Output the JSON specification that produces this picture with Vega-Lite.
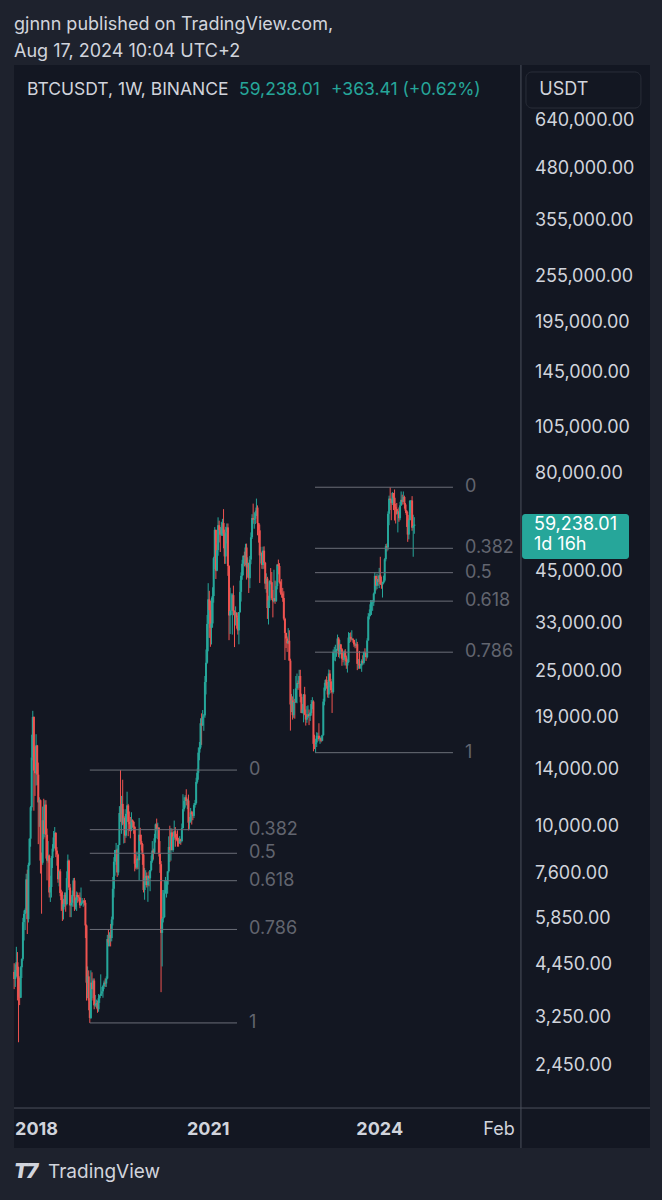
{
  "$schema": "https://vega.github.io/schema/vega-lite/v6.json",
  "width": 636,
  "height": 1083,
  "autosize": {"type": "none"},
  "padding": {"left": 14, "top": 65, "right": 12, "bottom": 52},
  "background": "#1e222d",
  "config": {
    "view": {"fill": "#131722", "stroke": null},
    "text": {"font": "Inter"}
  },
  "title": {
    "text": "gjnnn published on TradingView.com,",
    "subtitle": "Aug 17, 2024 10:04 UTC+2",
    "anchor": "start", "frame": "group",
    "font": "Inter", "fontSize": 18, "fontWeight": "normal", "color": "#d1d4dc",
    "subtitleFont": "Inter", "subtitleFontSize": 18, "subtitleColor": "#d1d4dc",
    "subtitlePadding": 9, "offset": 4
  },
  "datasets": {
    "candles": [
      {"d":"2017-08-14","o":4261,"h":4485,"l":3850,"c":4086},
      {"d":"2017-08-21","o":4086,"h":4453,"l":3900,"c":4310},
      {"d":"2017-08-28","o":4310,"h":4939,"l":4124,"c":4509},
      {"d":"2017-09-04","o":4509,"h":4788,"l":3603,"c":4160},
      {"d":"2017-09-11","o":4160,"h":4394,"l":2817,"c":3679},
      {"d":"2017-09-18","o":3679,"h":4123,"l":3505,"c":3660},
      {"d":"2017-09-25","o":3660,"h":4406,"l":3653,"c":4378},
      {"d":"2017-10-02","o":4378,"h":4614,"l":4110,"c":4600},
      {"d":"2017-10-09","o":4600,"h":5856,"l":4550,"c":5711},
      {"d":"2017-10-16","o":5711,"h":6118,"l":5125,"c":5993},
      {"d":"2017-10-23","o":5993,"h":6189,"l":5450,"c":6134},
      {"d":"2017-10-30","o":6134,"h":7590,"l":6030,"c":7345},
      {"d":"2017-11-06","o":7345,"h":7776,"l":5325,"c":5811},
      {"d":"2017-11-13","o":5811,"h":8100,"l":5699,"c":8000},
      {"d":"2017-11-20","o":8000,"h":9350,"l":7960,"c":9330},
      {"d":"2017-11-27","o":9330,"h":11300,"l":8900,"c":11223},
      {"d":"2017-12-04","o":11223,"h":17204,"l":11000,"c":15040},
      {"d":"2017-12-11","o":15040,"h":19798,"l":14800,"c":19100},
      {"d":"2017-12-18","o":19100,"h":19150,"l":11000,"c":13925},
      {"d":"2017-12-25","o":13925,"h":16000,"l":12000,"c":13716},
      {"d":"2018-01-01","o":13716,"h":17252,"l":12750,"c":16150},
      {"d":"2018-01-08","o":16150,"h":16200,"l":12800,"c":13600},
      {"d":"2018-01-15","o":13600,"h":14600,"l":9035,"c":11550},
      {"d":"2018-01-22","o":11550,"h":11900,"l":10000,"c":11700},
      {"d":"2018-01-29","o":11700,"h":11750,"l":7600,"c":8200},
      {"d":"2018-02-05","o":8200,"h":8600,"l":6000,"c":8100},
      {"d":"2018-02-12","o":8100,"h":11270,"l":8000,"c":10400},
      {"d":"2018-02-19","o":10400,"h":11800,"l":9300,"c":9600},
      {"d":"2018-02-26","o":9600,"h":11700,"l":9400,"c":11400},
      {"d":"2018-03-05","o":11400,"h":11700,"l":8300,"c":9550},
      {"d":"2018-03-12","o":9550,"h":9900,"l":7300,"c":8200},
      {"d":"2018-03-19","o":8200,"h":9200,"l":8100,"c":8450},
      {"d":"2018-03-26","o":8450,"h":8500,"l":6600,"c":6800},
      {"d":"2018-04-02","o":6800,"h":7500,"l":6430,"c":7020},
      {"d":"2018-04-09","o":7020,"h":8420,"l":6600,"c":8330},
      {"d":"2018-04-16","o":8330,"h":9035,"l":7850,"c":8800},
      {"d":"2018-04-23","o":8800,"h":9760,"l":8650,"c":9400},
      {"d":"2018-04-30","o":9400,"h":9990,"l":8820,"c":9650},
      {"d":"2018-05-07","o":9650,"h":9700,"l":8370,"c":8700},
      {"d":"2018-05-14","o":8700,"h":8880,"l":7960,"c":8500},
      {"d":"2018-05-21","o":8500,"h":8550,"l":7200,"c":7350},
      {"d":"2018-05-28","o":7350,"h":7750,"l":7050,"c":7700},
      {"d":"2018-06-04","o":7700,"h":7800,"l":6650,"c":6780},
      {"d":"2018-06-11","o":6780,"h":6910,"l":6100,"c":6500},
      {"d":"2018-06-18","o":6500,"h":6840,"l":5750,"c":6150},
      {"d":"2018-06-25","o":6150,"h":6550,"l":5800,"c":6350},
      {"d":"2018-07-02","o":6350,"h":6800,"l":6250,"c":6700},
      {"d":"2018-07-09","o":6700,"h":6800,"l":6070,"c":6350},
      {"d":"2018-07-16","o":6350,"h":7700,"l":6300,"c":7400},
      {"d":"2018-07-23","o":7400,"h":8500,"l":7350,"c":8200},
      {"d":"2018-07-30","o":8200,"h":8250,"l":6900,"c":7000},
      {"d":"2018-08-06","o":7000,"h":7150,"l":5880,"c":6300},
      {"d":"2018-08-13","o":6300,"h":6630,"l":5880,"c":6400},
      {"d":"2018-08-20","o":6400,"h":6880,"l":6250,"c":6700},
      {"d":"2018-08-27","o":6700,"h":7400,"l":6650,"c":7300},
      {"d":"2018-09-03","o":7300,"h":7410,"l":6100,"c":6250},
      {"d":"2018-09-10","o":6250,"h":6600,"l":6150,"c":6500},
      {"d":"2018-09-17","o":6500,"h":6840,"l":6100,"c":6700},
      {"d":"2018-09-24","o":6700,"h":6800,"l":6400,"c":6625},
      {"d":"2018-10-01","o":6625,"h":6700,"l":6450,"c":6600},
      {"d":"2018-10-08","o":6600,"h":6800,"l":6200,"c":6300},
      {"d":"2018-10-15","o":6300,"h":7000,"l":6300,"c":6400},
      {"d":"2018-10-22","o":6400,"h":6580,"l":6350,"c":6450},
      {"d":"2018-10-29","o":6450,"h":6500,"l":6250,"c":6480},
      {"d":"2018-11-05","o":6480,"h":6580,"l":6300,"c":6400},
      {"d":"2018-11-12","o":6400,"h":6500,"l":5200,"c":5600},
      {"d":"2018-11-19","o":5600,"h":5630,"l":3600,"c":4000},
      {"d":"2018-11-26","o":4000,"h":4400,"l":3650,"c":4150},
      {"d":"2018-12-03","o":4150,"h":4300,"l":3400,"c":3600},
      {"d":"2018-12-10","o":3600,"h":3650,"l":3156,"c":3250},
      {"d":"2018-12-17","o":3250,"h":4300,"l":3230,"c":4000},
      {"d":"2018-12-24","o":4000,"h":4250,"l":3600,"c":3850},
      {"d":"2018-12-31","o":3850,"h":4100,"l":3650,"c":4050},
      {"d":"2019-01-07","o":4050,"h":4100,"l":3420,"c":3500},
      {"d":"2019-01-14","o":3500,"h":3720,"l":3470,"c":3530},
      {"d":"2019-01-21","o":3530,"h":3620,"l":3440,"c":3550},
      {"d":"2019-01-28","o":3550,"h":3600,"l":3350,"c":3420},
      {"d":"2019-02-04","o":3420,"h":3740,"l":3370,"c":3650},
      {"d":"2019-02-11","o":3650,"h":3720,"l":3550,"c":3700},
      {"d":"2019-02-18","o":3700,"h":4200,"l":3700,"c":3750},
      {"d":"2019-02-25","o":3750,"h":3900,"l":3700,"c":3800},
      {"d":"2019-03-04","o":3800,"h":3950,"l":3660,"c":3920},
      {"d":"2019-03-11","o":3920,"h":4050,"l":3850,"c":4000},
      {"d":"2019-03-18","o":4000,"h":4100,"l":3900,"c":3980},
      {"d":"2019-03-25","o":3980,"h":4150,"l":3900,"c":4100},
      {"d":"2019-04-01","o":4100,"h":5300,"l":4080,"c":5170},
      {"d":"2019-04-08","o":5170,"h":5470,"l":4950,"c":5070},
      {"d":"2019-04-15","o":5070,"h":5380,"l":4950,"c":5300},
      {"d":"2019-04-22","o":5300,"h":5650,"l":4950,"c":5200},
      {"d":"2019-04-29","o":5200,"h":5900,"l":5100,"c":5800},
      {"d":"2019-05-06","o":5800,"h":7450,"l":5600,"c":6950},
      {"d":"2019-05-13","o":6950,"h":8370,"l":6600,"c":8150},
      {"d":"2019-05-20","o":8150,"h":8250,"l":7500,"c":8730},
      {"d":"2019-05-27","o":8730,"h":9100,"l":8000,"c":8740},
      {"d":"2019-06-03","o":8740,"h":8800,"l":7450,"c":7650},
      {"d":"2019-06-10","o":7650,"h":9000,"l":7520,"c":8990},
      {"d":"2019-06-17","o":8990,"h":11300,"l":8980,"c":10850},
      {"d":"2019-06-24","o":10850,"h":13970,"l":10300,"c":10800},
      {"d":"2019-07-01","o":10800,"h":12000,"l":9600,"c":11450},
      {"d":"2019-07-08","o":11450,"h":13200,"l":10100,"c":10200},
      {"d":"2019-07-15","o":10200,"h":11100,"l":9070,"c":10550},
      {"d":"2019-07-22","o":10550,"h":10650,"l":9100,"c":9500},
      {"d":"2019-07-29","o":9500,"h":11100,"l":9380,"c":10800},
      {"d":"2019-08-05","o":10800,"h":12300,"l":10800,"c":11350},
      {"d":"2019-08-12","o":11350,"h":11450,"l":9470,"c":10300},
      {"d":"2019-08-19","o":10300,"h":10950,"l":9750,"c":10150},
      {"d":"2019-08-26","o":10150,"h":10600,"l":9350,"c":9800},
      {"d":"2019-09-02","o":9800,"h":10900,"l":9750,"c":10400},
      {"d":"2019-09-09","o":10400,"h":10450,"l":9950,"c":10300},
      {"d":"2019-09-16","o":10300,"h":10350,"l":9600,"c":10000},
      {"d":"2019-09-23","o":10000,"h":10050,"l":7700,"c":8050},
      {"d":"2019-09-30","o":8050,"h":8500,"l":7800,"c":7870},
      {"d":"2019-10-07","o":7870,"h":8650,"l":7780,"c":8300},
      {"d":"2019-10-14","o":8300,"h":8420,"l":7800,"c":8220},
      {"d":"2019-10-21","o":8220,"h":10540,"l":7300,"c":9550},
      {"d":"2019-10-28","o":9550,"h":9950,"l":9000,"c":9200},
      {"d":"2019-11-04","o":9200,"h":9550,"l":8700,"c":9040},
      {"d":"2019-11-11","o":9040,"h":9100,"l":8000,"c":8500},
      {"d":"2019-11-18","o":8500,"h":8550,"l":6800,"c":6900},
      {"d":"2019-11-25","o":6900,"h":7850,"l":6515,"c":7400},
      {"d":"2019-12-02","o":7400,"h":7750,"l":7100,"c":7500},
      {"d":"2019-12-09","o":7500,"h":7650,"l":7000,"c":7100},
      {"d":"2019-12-16","o":7100,"h":7500,"l":6435,"c":7500},
      {"d":"2019-12-23","o":7500,"h":7700,"l":7050,"c":7390},
      {"d":"2019-12-30","o":7390,"h":7500,"l":6850,"c":7760},
      {"d":"2020-01-06","o":7760,"h":8450,"l":7700,"c":8180},
      {"d":"2020-01-13","o":8180,"h":9200,"l":8100,"c":8700},
      {"d":"2020-01-20","o":8700,"h":8800,"l":8250,"c":8600},
      {"d":"2020-01-27","o":8600,"h":9600,"l":8530,"c":9350},
      {"d":"2020-02-03","o":9350,"h":10200,"l":9120,"c":10150},
      {"d":"2020-02-10","o":10150,"h":10500,"l":9800,"c":9900},
      {"d":"2020-02-17","o":9900,"h":10250,"l":9300,"c":9960},
      {"d":"2020-02-24","o":9960,"h":9970,"l":8400,"c":8550},
      {"d":"2020-03-02","o":8550,"h":9200,"l":7630,"c":8030},
      {"d":"2020-03-09","o":8030,"h":8180,"l":3782,"c":5360},
      {"d":"2020-03-16","o":5360,"h":6900,"l":4400,"c":5830},
      {"d":"2020-03-23","o":5830,"h":6900,"l":5700,"c":5880},
      {"d":"2020-03-30","o":5880,"h":7300,"l":5860,"c":6770},
      {"d":"2020-04-06","o":6770,"h":7450,"l":6750,"c":6900},
      {"d":"2020-04-13","o":6900,"h":7300,"l":6600,"c":7120},
      {"d":"2020-04-20","o":7120,"h":7700,"l":6750,"c":7700},
      {"d":"2020-04-27","o":7700,"h":9460,"l":7640,"c":8890},
      {"d":"2020-05-04","o":8890,"h":10070,"l":8130,"c":8720},
      {"d":"2020-05-11","o":8720,"h":9930,"l":8200,"c":9680},
      {"d":"2020-05-18","o":9680,"h":9900,"l":8800,"c":8720},
      {"d":"2020-05-25","o":8720,"h":9700,"l":8630,"c":9450},
      {"d":"2020-06-01","o":9450,"h":10380,"l":9270,"c":9750},
      {"d":"2020-06-08","o":9750,"h":9990,"l":8900,"c":9380},
      {"d":"2020-06-15","o":9380,"h":9600,"l":9230,"c":9300},
      {"d":"2020-06-22","o":9300,"h":9800,"l":8900,"c":9180},
      {"d":"2020-06-29","o":9180,"h":9380,"l":8900,"c":9080},
      {"d":"2020-07-06","o":9080,"h":9470,"l":9050,"c":9300},
      {"d":"2020-07-13","o":9300,"h":9330,"l":9000,"c":9200},
      {"d":"2020-07-20","o":9200,"h":10200,"l":9130,"c":9930},
      {"d":"2020-07-27","o":9930,"h":12120,"l":9900,"c":11100},
      {"d":"2020-08-03","o":11100,"h":11900,"l":10950,"c":11650},
      {"d":"2020-08-10","o":11650,"h":12050,"l":11200,"c":11900},
      {"d":"2020-08-17","o":11900,"h":12480,"l":11350,"c":11650},
      {"d":"2020-08-24","o":11650,"h":11800,"l":11100,"c":11680},
      {"d":"2020-08-31","o":11680,"h":12090,"l":9800,"c":10250},
      {"d":"2020-09-07","o":10250,"h":10600,"l":9880,"c":10330},
      {"d":"2020-09-14","o":10330,"h":11180,"l":10260,"c":10900},
      {"d":"2020-09-21","o":10900,"h":10990,"l":10140,"c":10770},
      {"d":"2020-09-28","o":10770,"h":10950,"l":10400,"c":10670},
      {"d":"2020-10-05","o":10670,"h":11500,"l":10530,"c":11370},
      {"d":"2020-10-12","o":11370,"h":11720,"l":11200,"c":11500},
      {"d":"2020-10-19","o":11500,"h":13350,"l":11400,"c":13030},
      {"d":"2020-10-26","o":13030,"h":14100,"l":12900,"c":13750},
      {"d":"2020-11-02","o":13750,"h":15960,"l":13200,"c":15480},
      {"d":"2020-11-09","o":15480,"h":16480,"l":14800,"c":15950},
      {"d":"2020-11-16","o":15950,"h":18950,"l":15800,"c":18400},
      {"d":"2020-11-23","o":18400,"h":19500,"l":16200,"c":18180},
      {"d":"2020-11-30","o":18180,"h":19890,"l":18100,"c":19150},
      {"d":"2020-12-07","o":19150,"h":19420,"l":17600,"c":19270},
      {"d":"2020-12-14","o":19270,"h":24300,"l":19000,"c":23450},
      {"d":"2020-12-21","o":23450,"h":28400,"l":21800,"c":26270},
      {"d":"2020-12-28","o":26270,"h":34800,"l":26100,"c":33000},
      {"d":"2021-01-04","o":33000,"h":41950,"l":28100,"c":38150},
      {"d":"2021-01-11","o":38150,"h":40100,"l":30400,"c":35800},
      {"d":"2021-01-18","o":35800,"h":37850,"l":28850,"c":32250},
      {"d":"2021-01-25","o":32250,"h":38550,"l":29250,"c":33100},
      {"d":"2021-02-01","o":33100,"h":40950,"l":32300,"c":38900},
      {"d":"2021-02-08","o":38900,"h":49000,"l":37400,"c":48600},
      {"d":"2021-02-15","o":48600,"h":58350,"l":45600,"c":57400},
      {"d":"2021-02-22","o":57400,"h":57500,"l":43000,"c":45150},
      {"d":"2021-03-01","o":45150,"h":52650,"l":45000,"c":50950},
      {"d":"2021-03-08","o":50950,"h":61800,"l":49300,"c":59000},
      {"d":"2021-03-15","o":59000,"h":60600,"l":53300,"c":57350},
      {"d":"2021-03-22","o":57350,"h":58400,"l":50400,"c":55800},
      {"d":"2021-03-29","o":55800,"h":60200,"l":55400,"c":58200},
      {"d":"2021-04-05","o":58200,"h":61250,"l":55400,"c":59800},
      {"d":"2021-04-12","o":59800,"h":64850,"l":51500,"c":56200},
      {"d":"2021-04-19","o":56200,"h":57500,"l":47000,"c":49100},
      {"d":"2021-04-26","o":49100,"h":58450,"l":47000,"c":56600},
      {"d":"2021-05-03","o":56600,"h":59600,"l":53000,"c":58250},
      {"d":"2021-05-10","o":58250,"h":59600,"l":43800,"c":46400},
      {"d":"2021-05-17","o":46400,"h":46650,"l":30000,"c":34700},
      {"d":"2021-05-24","o":34700,"h":40850,"l":31100,"c":35650},
      {"d":"2021-05-31","o":35650,"h":39500,"l":34800,"c":35800},
      {"d":"2021-06-07","o":35800,"h":39500,"l":31000,"c":39100},
      {"d":"2021-06-14","o":39100,"h":41350,"l":34800,"c":35600},
      {"d":"2021-06-21","o":35600,"h":35750,"l":28800,"c":34700},
      {"d":"2021-06-28","o":34700,"h":36600,"l":32700,"c":35300},
      {"d":"2021-07-05","o":35300,"h":35300,"l":32100,"c":34250},
      {"d":"2021-07-12","o":34250,"h":34650,"l":31000,"c":31780},
      {"d":"2021-07-19","o":31780,"h":35400,"l":29280,"c":35400},
      {"d":"2021-07-26","o":35400,"h":42600,"l":35200,"c":39850},
      {"d":"2021-08-02","o":39850,"h":44700,"l":37650,"c":43800},
      {"d":"2021-08-09","o":43800,"h":48150,"l":42800,"c":47000},
      {"d":"2021-08-16","o":47000,"h":49380,"l":43950,"c":49300},
      {"d":"2021-08-23","o":49300,"h":50500,"l":46300,"c":48900},
      {"d":"2021-08-30","o":48900,"h":52900,"l":46550,"c":51750},
      {"d":"2021-09-06","o":51750,"h":52950,"l":42850,"c":46050},
      {"d":"2021-09-13","o":46050,"h":48850,"l":43350,"c":47250},
      {"d":"2021-09-20","o":47250,"h":47350,"l":39600,"c":43200},
      {"d":"2021-09-27","o":43200,"h":49250,"l":40750,"c":48200},
      {"d":"2021-10-04","o":48200,"h":56550,"l":46900,"c":54950},
      {"d":"2021-10-11","o":54950,"h":62950,"l":54400,"c":61550},
      {"d":"2021-10-18","o":61550,"h":67000,"l":59500,"c":60850},
      {"d":"2021-10-25","o":60850,"h":63700,"l":57800,"c":61300},
      {"d":"2021-11-01","o":61300,"h":64270,"l":59400,"c":63300},
      {"d":"2021-11-08","o":63300,"h":69000,"l":62300,"c":65450},
      {"d":"2021-11-15","o":65450,"h":66300,"l":55600,"c":59700},
      {"d":"2021-11-22","o":59700,"h":59800,"l":53250,"c":57250},
      {"d":"2021-11-29","o":57250,"h":59200,"l":42000,"c":49400},
      {"d":"2021-12-06","o":49400,"h":51950,"l":47100,"c":50100},
      {"d":"2021-12-13","o":50100,"h":50500,"l":45650,"c":46700},
      {"d":"2021-12-20","o":46700,"h":52000,"l":45550,"c":50800},
      {"d":"2021-12-27","o":50800,"h":52100,"l":45700,"c":47300},
      {"d":"2022-01-03","o":47300,"h":47550,"l":40500,"c":41850},
      {"d":"2022-01-10","o":41850,"h":44450,"l":39650,"c":43100},
      {"d":"2022-01-17","o":43100,"h":43550,"l":34000,"c":36250},
      {"d":"2022-01-24","o":36250,"h":38950,"l":32900,"c":37900},
      {"d":"2022-01-31","o":37900,"h":42650,"l":36250,"c":42400},
      {"d":"2022-02-07","o":42400,"h":45850,"l":41650,"c":42200},
      {"d":"2022-02-14","o":42200,"h":44800,"l":38000,"c":38350},
      {"d":"2022-02-21","o":38350,"h":40300,"l":34300,"c":37700},
      {"d":"2022-02-28","o":37700,"h":45400,"l":37450,"c":38400},
      {"d":"2022-03-07","o":38400,"h":42600,"l":37150,"c":37800},
      {"d":"2022-03-14","o":37800,"h":42350,"l":37550,"c":41250},
      {"d":"2022-03-21","o":41250,"h":46950,"l":40450,"c":46800},
      {"d":"2022-03-28","o":46800,"h":48200,"l":44200,"c":46400},
      {"d":"2022-04-04","o":46400,"h":47200,"l":41850,"c":42150},
      {"d":"2022-04-11","o":42150,"h":42400,"l":39200,"c":39700},
      {"d":"2022-04-18","o":39700,"h":42950,"l":38550,"c":39450},
      {"d":"2022-04-25","o":39450,"h":40800,"l":37600,"c":38450},
      {"d":"2022-05-02","o":38450,"h":40000,"l":33700,"c":34050},
      {"d":"2022-05-09","o":34050,"h":34250,"l":26700,"c":31300},
      {"d":"2022-05-16","o":31300,"h":31350,"l":28650,"c":30300},
      {"d":"2022-05-23","o":30300,"h":30650,"l":28000,"c":29450},
      {"d":"2022-05-30","o":29450,"h":32200,"l":29300,"c":29900},
      {"d":"2022-06-06","o":29900,"h":31800,"l":26550,"c":26600},
      {"d":"2022-06-13","o":26600,"h":26900,"l":17620,"c":20550},
      {"d":"2022-06-20","o":20550,"h":21850,"l":19650,"c":21050},
      {"d":"2022-06-27","o":21050,"h":21550,"l":18800,"c":19300},
      {"d":"2022-07-04","o":19300,"h":22500,"l":19000,"c":20850},
      {"d":"2022-07-11","o":20850,"h":21250,"l":18900,"c":20800},
      {"d":"2022-07-18","o":20800,"h":24300,"l":20750,"c":22600},
      {"d":"2022-07-25","o":22600,"h":24650,"l":20700,"c":23300},
      {"d":"2022-08-01","o":23300,"h":23650,"l":22400,"c":23200},
      {"d":"2022-08-08","o":23200,"h":25200,"l":22650,"c":24300},
      {"d":"2022-08-15","o":24300,"h":25200,"l":20800,"c":21500},
      {"d":"2022-08-22","o":21500,"h":21900,"l":19520,"c":19550},
      {"d":"2022-08-29","o":19550,"h":20600,"l":19500,"c":19950},
      {"d":"2022-09-05","o":19950,"h":21850,"l":18500,"c":21800},
      {"d":"2022-09-12","o":21800,"h":22800,"l":19300,"c":19400},
      {"d":"2022-09-19","o":19400,"h":19950,"l":18150,"c":18800},
      {"d":"2022-09-26","o":18800,"h":20350,"l":18450,"c":19050},
      {"d":"2022-10-03","o":19050,"h":20450,"l":19000,"c":19400},
      {"d":"2022-10-10","o":19400,"h":19950,"l":18200,"c":19200},
      {"d":"2022-10-17","o":19200,"h":19700,"l":18650,"c":19550},
      {"d":"2022-10-24","o":19550,"h":21100,"l":19250,"c":20600},
      {"d":"2022-10-31","o":20600,"h":21450,"l":20000,"c":20900},
      {"d":"2022-11-07","o":20900,"h":21050,"l":15600,"c":16300},
      {"d":"2022-11-14","o":16300,"h":17200,"l":15800,"c":16280},
      {"d":"2022-11-21","o":16280,"h":16800,"l":15476,"c":16430},
      {"d":"2022-11-28","o":16430,"h":17450,"l":16000,"c":17100},
      {"d":"2022-12-05","o":17100,"h":17400,"l":16750,"c":17100},
      {"d":"2022-12-12","o":17100,"h":18400,"l":16550,"c":16750},
      {"d":"2022-12-19","o":16750,"h":17050,"l":16300,"c":16850},
      {"d":"2022-12-26","o":16850,"h":16950,"l":16450,"c":16600},
      {"d":"2023-01-02","o":16600,"h":17200,"l":16550,"c":17150},
      {"d":"2023-01-09","o":17150,"h":21250,"l":17100,"c":20900},
      {"d":"2023-01-16","o":20900,"h":23350,"l":20450,"c":22700},
      {"d":"2023-01-23","o":22700,"h":23800,"l":22300,"c":23750},
      {"d":"2023-01-30","o":23750,"h":24250,"l":22550,"c":22950},
      {"d":"2023-02-06","o":22950,"h":23450,"l":21400,"c":21800},
      {"d":"2023-02-13","o":21800,"h":25250,"l":21350,"c":24650},
      {"d":"2023-02-20","o":24650,"h":25150,"l":22750,"c":23550},
      {"d":"2023-02-27","o":23550,"h":23900,"l":21950,"c":22350},
      {"d":"2023-03-06","o":22350,"h":22600,"l":19550,"c":22100},
      {"d":"2023-03-13","o":22100,"h":28400,"l":21900,"c":28000},
      {"d":"2023-03-20","o":28000,"h":28850,"l":26600,"c":28000},
      {"d":"2023-03-27","o":28000,"h":29200,"l":26500,"c":28200},
      {"d":"2023-04-03","o":28200,"h":28500,"l":27200,"c":28300},
      {"d":"2023-04-10","o":28300,"h":31000,"l":28200,"c":30300},
      {"d":"2023-04-17","o":30300,"h":30550,"l":27150,"c":27600},
      {"d":"2023-04-24","o":27600,"h":30050,"l":26950,"c":29250},
      {"d":"2023-05-01","o":29250,"h":29350,"l":27650,"c":28450},
      {"d":"2023-05-08","o":28450,"h":28650,"l":25800,"c":26900},
      {"d":"2023-05-15","o":26900,"h":27650,"l":26350,"c":26750},
      {"d":"2023-05-22","o":26750,"h":28250,"l":25850,"c":28050},
      {"d":"2023-05-29","o":28050,"h":28450,"l":26500,"c":27100},
      {"d":"2023-06-05","o":27100,"h":27400,"l":25350,"c":25850},
      {"d":"2023-06-12","o":25850,"h":26800,"l":24800,"c":26350},
      {"d":"2023-06-19","o":26350,"h":31450,"l":26250,"c":30450},
      {"d":"2023-06-26","o":30450,"h":31300,"l":29500,"c":30600},
      {"d":"2023-07-03","o":30600,"h":31400,"l":29700,"c":30150},
      {"d":"2023-07-10","o":30150,"h":31800,"l":29950,"c":30250},
      {"d":"2023-07-17","o":30250,"h":30350,"l":29550,"c":30050},
      {"d":"2023-07-24","o":30050,"h":30050,"l":28850,"c":29250},
      {"d":"2023-07-31","o":29250,"h":29550,"l":28600,"c":29050},
      {"d":"2023-08-07","o":29050,"h":30250,"l":28700,"c":29300},
      {"d":"2023-08-14","o":29300,"h":29700,"l":25150,"c":26100},
      {"d":"2023-08-21","o":26100,"h":26850,"l":25350,"c":26100},
      {"d":"2023-08-28","o":26100,"h":28150,"l":25350,"c":25850},
      {"d":"2023-09-04","o":25850,"h":26100,"l":25350,"c":25850},
      {"d":"2023-09-11","o":25850,"h":26800,"l":24900,"c":26550},
      {"d":"2023-09-18","o":26550,"h":27450,"l":26000,"c":26250},
      {"d":"2023-09-25","o":26250,"h":28050,"l":26000,"c":27950},
      {"d":"2023-10-02","o":27950,"h":28600,"l":27200,"c":27900},
      {"d":"2023-10-09","o":27900,"h":28000,"l":26550,"c":27150},
      {"d":"2023-10-16","o":27150,"h":30350,"l":26950,"c":29950},
      {"d":"2023-10-23","o":29950,"h":35200,"l":29900,"c":34500},
      {"d":"2023-10-30","o":34500,"h":35950,"l":33900,"c":35000},
      {"d":"2023-11-06","o":35000,"h":37980,"l":34550,"c":37050},
      {"d":"2023-11-13","o":37050,"h":37950,"l":34800,"c":37350},
      {"d":"2023-11-20","o":37350,"h":38000,"l":35650,"c":37450},
      {"d":"2023-11-27","o":37450,"h":39700,"l":36700,"c":39450},
      {"d":"2023-12-04","o":39450,"h":44700,"l":39300,"c":43800},
      {"d":"2023-12-11","o":43800,"h":43800,"l":40200,"c":41350},
      {"d":"2023-12-18","o":41350,"h":44400,"l":40500,"c":43000},
      {"d":"2023-12-25","o":43000,"h":43800,"l":41300,"c":42300},
      {"d":"2024-01-01","o":42300,"h":45900,"l":40750,"c":43950},
      {"d":"2024-01-08","o":43950,"h":49000,"l":41500,"c":41750},
      {"d":"2024-01-15","o":41750,"h":43600,"l":40600,"c":41600},
      {"d":"2024-01-22","o":41600,"h":42250,"l":38550,"c":42050},
      {"d":"2024-01-29","o":42050,"h":43850,"l":41800,"c":42600},
      {"d":"2024-02-05","o":42600,"h":48600,"l":42250,"c":48300},
      {"d":"2024-02-12","o":48300,"h":52800,"l":47700,"c":52150},
      {"d":"2024-02-19","o":52150,"h":52950,"l":50550,"c":51750},
      {"d":"2024-02-26","o":51750,"h":64000,"l":50900,"c":63100},
      {"d":"2024-03-04","o":63100,"h":70200,"l":59000,"c":69000},
      {"d":"2024-03-11","o":69000,"h":73777,"l":64500,"c":68400},
      {"d":"2024-03-18","o":68400,"h":68950,"l":60750,"c":67200},
      {"d":"2024-03-25","o":67200,"h":71750,"l":66450,"c":71300},
      {"d":"2024-04-01","o":71300,"h":71350,"l":64500,"c":69350},
      {"d":"2024-04-08","o":69350,"h":72800,"l":60650,"c":65650},
      {"d":"2024-04-15","o":65650,"h":66900,"l":59600,"c":64950},
      {"d":"2024-04-22","o":64950,"h":67250,"l":62800,"c":63100},
      {"d":"2024-04-29","o":63100,"h":64750,"l":56550,"c":64000},
      {"d":"2024-05-06","o":64000,"h":65500,"l":60200,"c":61500},
      {"d":"2024-05-13","o":61500,"h":67700,"l":60750,"c":66300},
      {"d":"2024-05-20","o":66300,"h":71950,"l":66050,"c":68500},
      {"d":"2024-05-27","o":68500,"h":70600,"l":66600,"c":67750},
      {"d":"2024-06-03","o":67750,"h":71950,"l":67600,"c":69650},
      {"d":"2024-06-10","o":69650,"h":70200,"l":65050,"c":66650},
      {"d":"2024-06-17","o":66650,"h":67200,"l":63400,"c":64250},
      {"d":"2024-06-24","o":64250,"h":64500,"l":58400,"c":62700},
      {"d":"2024-07-01","o":62700,"h":63850,"l":53500,"c":55850},
      {"d":"2024-07-08","o":55850,"h":61400,"l":54300,"c":60800},
      {"d":"2024-07-15","o":60800,"h":68350,"l":60650,"c":68150},
      {"d":"2024-07-22","o":68150,"h":68450,"l":63450,"c":68250},
      {"d":"2024-07-29","o":68250,"h":70000,"l":57100,"c":58150},
      {"d":"2024-08-05","o":58150,"h":62750,"l":49000,"c":58750},
      {"d":"2024-08-12","o":58750,"h":61850,"l":56100,"c":59238.01}
    ],
    "fib": [
      {"lvl":"0","p":13970,"s":"2018-12-10","e":"2021-07-07"},
      {"lvl":"0.382","p":9839,"s":"2018-12-10","e":"2021-07-07"},
      {"lvl":"0.5","p":8563,"s":"2018-12-10","e":"2021-07-07"},
      {"lvl":"0.618","p":7287,"s":"2018-12-10","e":"2021-07-07"},
      {"lvl":"0.786","p":5470,"s":"2018-12-10","e":"2021-07-07"},
      {"lvl":"1","p":3156,"s":"2018-12-10","e":"2021-07-07"},
      {"lvl":"0","p":73777,"s":"2022-11-17","e":"2025-04-16"},
      {"lvl":"0.382","p":51506,"s":"2022-11-17","e":"2025-04-16"},
      {"lvl":"0.5","p":44627,"s":"2022-11-17","e":"2025-04-16"},
      {"lvl":"0.618","p":37747,"s":"2022-11-17","e":"2025-04-16"},
      {"lvl":"0.786","p":27952,"s":"2022-11-17","e":"2025-04-16"},
      {"lvl":"1","p":15476,"s":"2022-11-17","e":"2025-04-16"}
    ]
  },
  "layer": [
    {
      "data": {"name": "candles"},
      "mark": {"type": "rule", "strokeWidth": 1},
      "encoding": {
        "x": {"field": "d", "type": "temporal",
          "scale": {"type": "utc", "domain": [{"year": 2017, "month": 8, "date": 13, "utc": true}, {"year": 2028, "month": 9, "date": 25, "utc": true}]},
          "axis": {
            "values": [{"year": 2018, "month": 1, "date": 1, "utc": true}, {"year": 2021, "month": 1, "date": 1, "utc": true}, {"year": 2024, "month": 1, "date": 1, "utc": true}, {"year": 2026, "month": 2, "date": 1, "utc": true}],
            "labelExpr": "utcmonth(datum.value) == 1 ? 'Feb' : utcFormat(datum.value, '%Y')",
            "labelFontWeight": {"condition": {"test": "utcmonth(datum.value) == 1", "value": "normal"}, "value": "bold"},
            "labelFont": "Inter", "labelColor": "#d1d4dc", "labelFontSize": 18,
            "ticks": false, "tickSize": 0, "domain": false, "grid": false,
            "labelPadding": -19, "labelBaseline": "middle", "zindex": 1,
            "labelFlush": false, "labelOverlap": false, "title": null
          }
        },
        "y": {"field": "l", "type": "quantitative",
          "scale": {"type": "log", "domain": [1512, 884600], "nice": false},
          "axis": {
            "orient": "right",
            "values": [2450, 3250, 4450, 5850, 7600, 10000, 14000, 19000, 25000, 33000, 45000, 80000, 105000, 145000, 195000, 255000, 355000, 480000, 640000],
            "format": ",.2f",
            "labelFont": "Inter", "labelColor": "#d1d4dc", "labelFontSize": 18,
            "ticks": false, "tickSize": 0, "domain": false, "grid": false,
            "labelPadding": -115.5, "labelAlign": "left", "labelBaseline": "middle", "zindex": 1,
            "labelOverlap": false, "labelFlush": false, "title": null
          }
        },
        "y2": {"field": "h"},
        "color": {"condition": {"test": "datum.c >= datum.o", "value": "#26a69a"}, "value": "#ef5350"}
      }
    },
    {
      "data": {"values": [{}]},
      "mark": {"type": "rule", "color": "#4c505b", "strokeWidth": 1},
      "encoding": {
        "x": {"datum": {"year": 2026, "month": 6, "date": 24, "utc": true}, "type": "temporal"}
      }
    },
    {
      "data": {"values": [{}]},
      "mark": {"type": "rule", "color": "#4c505b", "strokeWidth": 1},
      "encoding": {
        "y": {"datum": 1913, "type": "quantitative"}
      }
    },
    {
      "data": {"name": "candles"},
      "mark": {"type": "rule", "strokeWidth": 2},
      "encoding": {
        "x": {"field": "d", "type": "temporal"},
        "y": {"field": "o", "type": "quantitative"},
        "y2": {"field": "c"},
        "color": {"condition": {"test": "datum.c >= datum.o", "value": "#26a69a"}, "value": "#ef5350"}
      }
    },
    {
      "data": {"name": "fib"},
      "mark": {"type": "rule", "color": "#6b6e78", "strokeWidth": 1},
      "encoding": {
        "x": {"field": "s", "type": "temporal"},
        "x2": {"field": "e"},
        "y": {"field": "p", "type": "quantitative"}
      }
    },
    {
      "data": {"name": "fib"},
      "mark": {"type": "text", "align": "left", "baseline": "middle", "dx": 12, "fontSize": 18, "color": "#62656f"},
      "encoding": {
        "x": {"field": "e", "type": "temporal"},
        "y": {"field": "p", "type": "quantitative"},
        "text": {"field": "lvl"}
      }
    },
    {
      "data": {"values": [{}]},
      "mark": {"type": "rect", "fill": "#131722", "stroke": "#2a2e39", "strokeWidth": 1, "cornerRadius": 6},
      "encoding": {
        "x": {"datum": {"year": 2026, "month": 7, "date": 26, "utc": true}, "type": "temporal"},
        "x2": {"datum": {"year": 2028, "month": 7, "date": 29, "utc": true}},
        "y": {"datum": 849000, "type": "quantitative"},
        "y2": {"datum": 686800}
      }
    },
    {
      "data": {"values": [{}]},
      "mark": {"type": "text", "text": "USDT", "align": "left", "baseline": "middle", "fontSize": 18, "color": "#d1d4dc"},
      "encoding": {
        "x": {"datum": {"year": 2026, "month": 10, "date": 19, "utc": true}, "type": "temporal"},
        "y": {"datum": 763400, "type": "quantitative"}
      }
    },
    {
      "data": {"values": [{}]},
      "mark": {"type": "rect", "fill": "#26a69a", "cornerRadius": 3},
      "encoding": {
        "x": {"datum": {"year": 2026, "month": 7, "date": 1, "utc": true}, "type": "temporal"},
        "x2": {"datum": {"year": 2028, "month": 5, "date": 14, "utc": true}},
        "y": {"datum": 63030, "type": "quantitative"},
        "y2": {"datum": 48370}
      }
    },
    {
      "data": {"values": [{"t": "59,238.01", "p": 59238}, {"t": "1d 16h", "p": 52530}]},
      "mark": {"type": "text", "align": "left", "baseline": "middle", "fontSize": 18, "color": "#ffffff"},
      "encoding": {
        "x": {"datum": {"year": 2026, "month": 9, "date": 15, "utc": true}, "type": "temporal"},
        "y": {"field": "p", "type": "quantitative"},
        "text": {"field": "t"}
      }
    },
    {
      "data": {"values": [{}]},
      "mark": {"type": "text", "text": "BTCUSDT, 1W, BINANCE", "align": "left", "baseline": "middle", "fontSize": 17.5, "color": "#d1d4dc"},
      "encoding": {
        "x": {"datum": {"year": 2017, "month": 11, "date": 4, "utc": true}, "type": "temporal"},
        "y": {"datum": 763400, "type": "quantitative"}
      }
    },
    {
      "data": {"values": [{"t": "59,238.01", "d": "2021-07-20"}, {"t": "+363.41 (+0.62%)", "d": "2023-02-27"}]},
      "mark": {"type": "text", "align": "left", "baseline": "middle", "fontSize": 17.5, "color": "#26a69a"},
      "encoding": {
        "x": {"field": "d", "type": "temporal"},
        "y": {"datum": 763400, "type": "quantitative"},
        "text": {"field": "t"}
      }
    },
    {
      "data": {"values": [{}]},
      "mark": {"type": "text", "text": "TradingView", "align": "left", "baseline": "middle", "fontSize": 19, "color": "#d1d4dc"},
      "encoding": {
        "x": {"datum": {"year": 2018, "month": 3, "date": 18, "utc": true}, "type": "temporal"},
        "y": {"datum": 1313, "type": "quantitative"}
      }
    },
    {
      "data": {"values": [{}]},
      "mark": {"type": "text", "text": "T7", "align": "left", "baseline": "middle", "fontSize": 20, "fontWeight": 900, "fontStyle": "italic", "color": "#d1d4dc"},
      "encoding": {
        "x": {"datum": {"year": 2017, "month": 8, "date": 13, "utc": true}, "type": "temporal"},
        "y": {"datum": 1313, "type": "quantitative"}
      }
    }
  ]
}
